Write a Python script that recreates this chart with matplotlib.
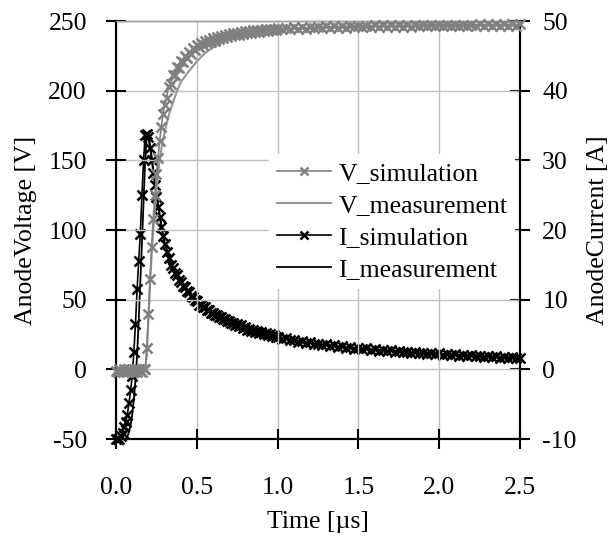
import matplotlib
matplotlib.use('Agg')
import matplotlib.pyplot as plt
from matplotlib.ticker import FormatStrFormatter

plt.rcParams['font.family'] = 'Liberation Serif'
plt.rcParams['axes.unicode_minus'] = False

# simulation time base [us]
t_sim = [0.00, 0.01, 0.02, 0.03, 0.04, 0.05, 0.06, 0.07, 0.08, 0.09,
         0.10, 0.11, 0.12, 0.13, 0.14, 0.15, 0.16, 0.17, 0.18, 0.19,
         0.20, 0.21, 0.22, 0.23, 0.24, 0.25, 0.26, 0.27, 0.28, 0.29,
         0.30,
         0.3125, 0.325, 0.3375, 0.35, 0.3625, 0.375, 0.3875, 0.40,
         0.4125, 0.425, 0.4375, 0.45, 0.4625, 0.475, 0.4875, 0.50,
         0.5125, 0.525, 0.5375, 0.55, 0.5625, 0.575, 0.5875, 0.60,
         0.6125, 0.625, 0.6375, 0.65, 0.6625, 0.675, 0.6875, 0.70,
         0.7125, 0.725, 0.7375, 0.75, 0.7625, 0.775, 0.7875, 0.80,
         0.8125, 0.825, 0.8375, 0.85, 0.8625, 0.875, 0.8875, 0.90,
         0.9125, 0.925, 0.9375, 0.95, 0.9625, 0.975, 0.9875, 1.00,
         1.025, 1.05, 1.075, 1.10, 1.125, 1.15, 1.175, 1.20, 1.225, 1.25,
         1.275, 1.30, 1.325, 1.35, 1.375, 1.40, 1.425, 1.45, 1.475, 1.50,
         1.525, 1.55, 1.575, 1.60, 1.625, 1.65, 1.675, 1.70, 1.725, 1.75,
         1.775, 1.80, 1.825, 1.85, 1.875, 1.90, 1.925, 1.95, 1.975, 2.00,
         2.025, 2.05, 2.075, 2.10, 2.125, 2.15, 2.175, 2.20, 2.225, 2.25,
         2.275, 2.30, 2.325, 2.35, 2.375, 2.40, 2.425, 2.45, 2.475, 2.50]

v_sim = [-1, -2, 0, -1, -2, 0, -1, -2, 0, -1,
         -2, 0, -1, -2, 0, -1, -2, 0, 0, 15,
         40, 65, 88, 108, 125, 140, 152, 164, 174, 183,
         190,
         195, 203, 205, 211, 211.5, 217, 216.5, 221,
         220.5, 225, 223.5, 228, 226.5, 230.5, 229, 232.5,
         231, 234, 232.5, 235.5, 234, 236.5, 235, 237.5,
         236, 238.5, 237, 239.3, 237.8, 240, 238.5, 240.6,
         239.2, 241.2, 239.8, 241.7, 240.3, 242.1, 240.8, 242.5,
         241.2, 242.9, 241.6, 243.2, 242, 243.5, 242.3, 243.8,
         242.6, 244.1, 242.9, 244.3, 243.2, 244.5, 243.5, 244.7,
         244, 245.2, 244.2, 245.4, 244.4, 245.6, 244.6, 245.8, 244.8, 246,
         245, 246.2, 245.1, 246.3, 245.2, 246.4, 245.3, 246.5, 245.4, 246.6,
         245.5, 246.7, 245.6, 246.8, 245.7, 246.9, 245.8, 247, 245.9, 247,
         246, 247.1, 246, 247.2, 246.1, 247.2, 246.1, 247.3, 246.2, 247.3,
         246.2, 247.4, 246.3, 247.4, 246.3, 247.5, 246.4, 247.5, 246.4, 247.6,
         246.5, 247.6, 246.5, 247.7, 246.6, 247.7, 246.6, 247.8, 246.7, 247.8]

i_sim = [-10, -10, -10, -9.6, -9.1, -8.3, -7.5, -6.5, -4.8, -3.0,
         -1.0, 2.5, 6.5, 11.5, 15.5, 19.5, 25, 30, 33.6, 33.8,
         33.3, 31.8, 30, 28.2, 26.5, 24.8, 23.3, 21.8, 20.4, 19.1,
         18.0,
         16.9, 16.0, 15.0, 14.6, 13.8, 13.5, 12.8, 12.6,
         12.0, 11.8, 11.2, 11.1, 10.5, 10.4, 9.9, 9.8,
         9.3, 9.3, 8.9, 8.9, 8.5, 8.5, 8.1, 8.1,
         7.8, 7.8, 7.5, 7.5, 7.2, 7.2, 6.9, 6.95,
         6.65, 6.7, 6.4, 6.5, 6.2, 6.3, 6.0, 6.1,
         5.7, 5.8, 5.55, 5.65, 5.4, 5.5, 5.25, 5.35,
         5.1, 5.2, 4.95, 5.05, 4.8, 4.9, 4.6, 4.7,
         4.35, 4.45, 4.15, 4.25, 3.95, 4.05, 3.75, 3.9, 3.6, 3.7,
         3.45, 3.6, 3.35, 3.45, 3.2, 3.35, 3.1, 3.2, 2.95, 3.1,
         2.85, 3.0, 2.75, 2.9, 2.7, 2.8, 2.6, 2.75, 2.5, 2.65,
         2.45, 2.55, 2.35, 2.5, 2.3, 2.4, 2.2, 2.35, 2.15, 2.3,
         2.1, 2.2, 2.0, 2.15, 1.95, 2.05, 1.9, 2.0, 1.85, 1.95,
         1.8, 1.9, 1.75, 1.85, 1.7, 1.8, 1.65, 1.75, 1.6, 1.7]

# measured waveforms
t_vmeas = [0.00, 0.18, 0.19, 0.20, 0.21, 0.22, 0.23, 0.24, 0.25, 0.26,
           0.27, 0.28, 0.29, 0.30, 0.325, 0.35, 0.375, 0.40, 0.45, 0.50,
           0.55, 0.60, 0.70, 0.80, 1.00, 1.50, 2.00, 2.50]
v_meas = [-1, 0, 10, 35, 60, 82, 100, 115, 128, 140,
          150, 158, 164, 170, 182, 191, 199, 206, 214, 221,
          227, 231, 237, 241, 244, 246.5, 247, 247.5]

t_imeas = [0.00, 0.06, 0.07, 0.08, 0.09, 0.10, 0.11, 0.12, 0.13, 0.14,
           0.15, 0.16, 0.17, 0.18, 0.19, 0.20, 0.21, 0.22, 0.23, 0.24,
           0.25, 0.26, 0.28, 0.30, 0.35, 0.40, 0.50, 0.60, 0.80, 1.00,
           1.25, 1.50, 1.75, 2.00, 2.25, 2.50]
i_meas = [-10, -10, -9.6, -9.0, -8.0, -6.5, -4.3, -1.5, 2.0, 7.0,
          12.5, 18, 24, 30, 33.5, 33.6, 32.3, 30.6, 28.8, 27,
          25.3, 23.7, 20.8, 18.3, 14.6, 12.5, 9.8, 8.1, 6.0, 4.7,
          3.6, 3.0, 2.6, 2.25, 1.95, 1.7]

fs = 18.5
grey = '#808080'

fig = plt.figure(figsize=(6.11, 5.39), dpi=100)
ax = fig.add_axes([0.19, 0.1855, 0.661, 0.7755])
ax2 = ax.twinx()

ax.set_zorder(1)
ax.patch.set_visible(False)
ax2.set_zorder(0)

l1, = ax.plot(t_sim, v_sim, color=grey, lw=1.2, marker='x', ms=7.5, mew=1.8,
              label='V_simulation', clip_on=False, zorder=3)
l2, = ax.plot(t_vmeas, v_meas, color='#959595', lw=1.5,
              label='V_measurement', zorder=2)
l3, = ax2.plot(t_sim, i_sim, color='black', lw=1.2, marker='x', ms=7.5, mew=1.8,
               label='I_simulation', clip_on=False, zorder=3)
l4, = ax2.plot(t_imeas, i_meas, color='black', lw=1.3,
               label='I_measurement', zorder=2)

ax.set_xlim(0, 2.5)
ax.set_ylim(-50, 250)
ax2.set_ylim(-10, 50)
ax.set_xticks([0.0, 0.5, 1.0, 1.5, 2.0, 2.5])
ax.set_yticks([-50, 0, 50, 100, 150, 200, 250])
ax2.set_yticks([-10, 0, 10, 20, 30, 40, 50])
ax.xaxis.set_major_formatter(FormatStrFormatter('%.1f'))

ax.grid(True, color='#c0c0c0', lw=1)
ax.set_axisbelow(True)

for a in (ax, ax2):
    a.spines['top'].set_color('#a0a0a0')
    a.spines['top'].set_linewidth(1)
    for s in ('left', 'right', 'bottom'):
        a.spines[s].set_linewidth(1.5)

ax.tick_params(axis='y', direction='inout', length=14, width=1.5,
               labelsize=fs, pad=14)
ax.tick_params(axis='x', direction='inout', length=14, width=1.5,
               labelsize=fs, pad=20)
ax2.tick_params(axis='y', direction='inout', length=14, width=1.5,
                labelsize=fs, pad=9)

ax.set_xlabel('Time [µs]', fontsize=fs)
ax.xaxis.set_label_coords(0.5, -0.172)
ax.set_ylabel('AnodeVoltage [V]', fontsize=fs)
ax.yaxis.set_label_coords(-0.195, 0.5)
ax2.set_ylabel('AnodeCurrent [A]', fontsize=fs)
ax2.yaxis.set_label_coords(1.166, 0.5)

leg = ax.legend(handles=[l1, l2, l3, l4], loc='center',
                bbox_to_anchor=(0.683, 0.52), fontsize=fs,
                frameon=True, framealpha=1, facecolor='white',
                edgecolor='none', handlelength=2.1, handletextpad=0.3,
                labelspacing=0.35, borderpad=0.3, markerscale=0.8)
leg.set_zorder(10)

fig.savefig('out.png', dpi=100)
